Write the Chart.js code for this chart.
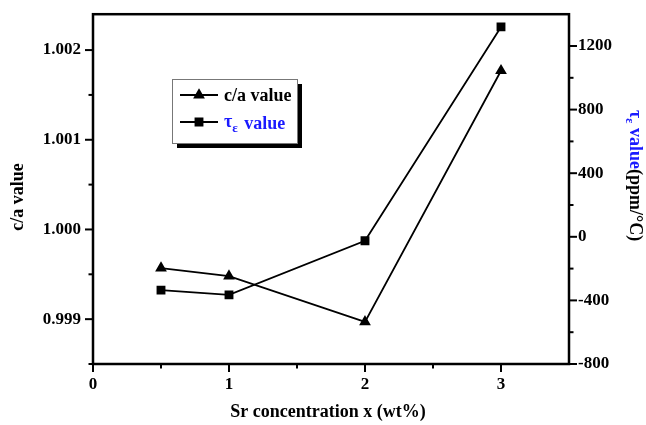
<!DOCTYPE html>
<html>
<head>
<meta charset="utf-8">
<script src="https://cdn.jsdelivr.net/npm/chart.js@4/dist/chart.umd.min.js"></script>
<style>
  html, body { margin: 0; padding: 0; background: #fff; }
  #wrap { width: 646px; height: 425px; }
</style>
</head>
<body>
<div id="wrap"><canvas id="c" width="646" height="425"></canvas></div>
<script>
// Sr content (wt%) and the two measured quantities
const concentrations = [0.5, 1, 2, 3];
const caValues = [0.99957, 0.99948, 0.99897, 1.00177];
const tauValues = [-335, -365, -25, 1320];

// Tick labels for each axis
const xTicks = [0, 1, 2, 3];
const caTicks = [0.999, 1.000, 1.001, 1.002];
const tauTicks = [-800, -400, 0, 400, 800, 1200];

const FONT = '"Liberation Serif", "Times New Roman", serif';
const BLUE = '#1a1aff';

const toPoints = (xs, ys) => xs.map((x, i) => ({ x: x, y: ys[i] }));
const setTicks = arr => scale => { scale.ticks = arr.map(v => ({ value: v })); };

// Frame, major/minor tick marks, axis titles and the boxed legend
const decor = {
  id: 'decor',
  afterDraw(chart) {
    const ctx = chart.ctx;
    const a = chart.chartArea;
    const sx = chart.scales.x, sy = chart.scales.y, sy1 = chart.scales.y1;
    ctx.save();
    ctx.strokeStyle = '#000';
    ctx.fillStyle = '#000';

    // frame
    ctx.lineWidth = 2.5;
    ctx.strokeRect(a.left, a.top, a.right - a.left, a.bottom - a.top);

    // tick marks
    ctx.lineWidth = 2;
    const major = 8, minor = 4.5;
    const xTick = (v, len) => {
      const p = sx.getPixelForValue(v);
      ctx.beginPath(); ctx.moveTo(p, a.bottom); ctx.lineTo(p, a.bottom + len); ctx.stroke();
    };
    const lTick = (v, len) => {
      const p = sy.getPixelForValue(v);
      ctx.beginPath(); ctx.moveTo(a.left, p); ctx.lineTo(a.left - len, p); ctx.stroke();
    };
    const rTick = (v, len) => {
      const p = sy1.getPixelForValue(v);
      ctx.beginPath(); ctx.moveTo(a.right, p); ctx.lineTo(a.right + len, p); ctx.stroke();
    };
    xTicks.forEach(v => xTick(v, major));
    xTicks.forEach(v => { if (v + 0.5 < sx.max) xTick(v + 0.5, minor); });
    caTicks.forEach(v => lTick(v, major));
    caTicks.forEach(v => { if (v - 0.0005 > sy.min) lTick(v - 0.0005, minor); });
    lTick(sy.min, minor);
    tauTicks.forEach(v => rTick(v, major));
    tauTicks.forEach(v => { if (v + 200 < sy1.max) rTick(v + 200, minor); });

    // x-axis title
    ctx.font = 'bold 18px ' + FONT;
    ctx.textAlign = 'center';
    ctx.textBaseline = 'middle';
    ctx.fillText('Sr concentration x (wt%)', (a.left + a.right) / 2 - 3, 412);

    // left axis title
    ctx.save();
    ctx.translate(18, 197);
    ctx.rotate(-Math.PI / 2);
    ctx.fillText('c/a value', 0, 0);
    ctx.restore();

    // right axis title, reading downward
    ctx.save();
    ctx.translate(635, 110);
    ctx.rotate(Math.PI / 2);
    ctx.textAlign = 'left';
    ctx.textBaseline = 'middle';
    let x = 0;
    ctx.fillStyle = BLUE;
    ctx.font = 'bold 18px ' + FONT;
    ctx.fillText('\u03c4', x, 0); x += ctx.measureText('\u03c4').width;
    ctx.font = 'bold 12px ' + FONT;
    ctx.fillText('\u03b5', x, 6); x += ctx.measureText('\u03b5').width;
    ctx.font = 'bold 18px ' + FONT;
    ctx.fillText(' value', x, 0); x += ctx.measureText(' value').width;
    ctx.fillStyle = '#000';
    ctx.font = 'bold 18px ' + FONT;
    ctx.fillText('(ppm/\u00b0C)', x, 0);
    ctx.restore();

    // legend box with drop shadow
    const bx = 172, by = 79, bw = 125, bh = 64;
    ctx.fillStyle = '#000';
    ctx.fillRect(bx + 5, by + 5, bw, bh);
    ctx.fillStyle = '#fff';
    ctx.fillRect(bx, by, bw, bh);
    ctx.strokeStyle = '#777';
    ctx.lineWidth = 1;
    ctx.strokeRect(bx + 0.5, by + 0.5, bw, bh);

    const rows = [
      { y: 95, style: 'triangle' },
      { y: 122, style: 'rect' }
    ];
    rows.forEach(r => {
      ctx.strokeStyle = '#000';
      ctx.fillStyle = '#000';
      ctx.lineWidth = 1.8;
      ctx.beginPath(); ctx.moveTo(180, r.y); ctx.lineTo(218, r.y); ctx.stroke();
      Chart.helpers.drawPoint(ctx, { pointStyle: r.style, radius: 5, borderWidth: 1 }, 199, r.y);
    });
    ctx.fillStyle = '#000';
    ctx.textAlign = 'left';
    ctx.textBaseline = 'middle';
    ctx.font = 'bold 18px ' + FONT;
    ctx.fillText('c/a value', 224, 96);
    ctx.fillStyle = BLUE;
    let lx = 224;
    ctx.fillText('\u03c4', lx, 122); lx += ctx.measureText('\u03c4').width;
    ctx.font = 'bold 13px ' + FONT;
    ctx.fillText('\u03b5', lx, 129); lx += ctx.measureText('\u03b5').width;
    ctx.font = 'bold 18px ' + FONT;
    ctx.fillText(' value', lx + 2, 124);
    ctx.restore();
  }
};

const tickFont = { family: FONT, size: 17, weight: 'bold' };
const hiddenGrid = { color: 'rgba(0,0,0,0)', drawOnChartArea: false, drawTicks: true, tickLength: 8 };

new Chart(document.getElementById('c'), {
  type: 'line',
  data: {
    datasets: [
      {
        label: 'c/a value',
        data: toPoints(concentrations, caValues),
        yAxisID: 'y',
        borderColor: '#000',
        backgroundColor: '#000',
        borderWidth: 1.8,
        pointStyle: 'triangle',
        pointRadius: 5,
        tension: 0
      },
      {
        label: '\u03c4\u03b5 value',
        data: toPoints(concentrations, tauValues),
        yAxisID: 'y1',
        borderColor: '#000',
        backgroundColor: '#000',
        borderWidth: 1.8,
        pointStyle: 'rect',
        pointRadius: 5,
        tension: 0
      }
    ]
  },
  options: {
    responsive: false,
    animation: false,
    devicePixelRatio: 1,
    layout: { padding: { top: 12, left: 0, right: 0, bottom: 0 } },
    plugins: { legend: { display: false }, tooltip: { enabled: false } },
    scales: {
      x: {
        type: 'linear',
        position: 'bottom',
        min: 0,
        max: 3.5,
        afterBuildTicks: setTicks(xTicks),
        afterFit: s => { s.height = 61; },
        grid: hiddenGrid,
        border: { display: false },
        ticks: { font: tickFont, color: '#000', padding: 2, maxRotation: 0, callback: v => String(v) }
      },
      y: {
        type: 'linear',
        position: 'left',
        min: 0.9985,
        max: 1.0024,
        afterBuildTicks: setTicks(caTicks),
        afterFit: s => { s.width = 93; },
        grid: hiddenGrid,
        border: { display: false },
        ticks: { font: tickFont, color: '#000', padding: 4, callback: v => v.toFixed(3) }
      },
      y1: {
        type: 'linear',
        position: 'right',
        min: -800,
        max: 1400,
        afterBuildTicks: setTicks(tauTicks),
        afterFit: s => { s.width = 77; },
        grid: hiddenGrid,
        border: { display: false },
        ticks: { font: tickFont, color: '#000', padding: 1, callback: v => String(v) }
      }
    }
  },
  plugins: [decor]
});
</script>
</body>
</html>
